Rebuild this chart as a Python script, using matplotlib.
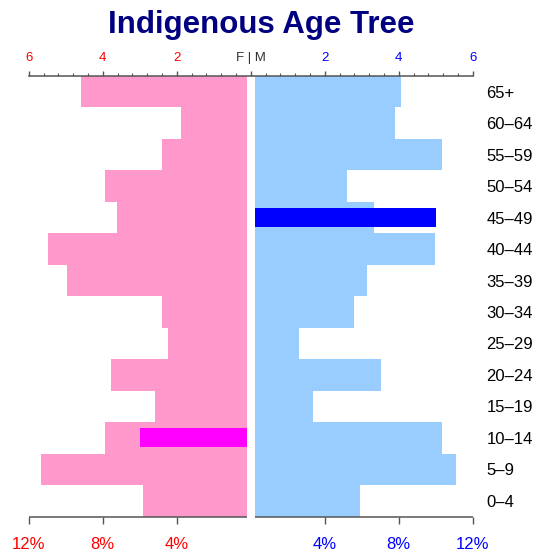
import matplotlib.pyplot as plt
import numpy as np

plt.rcParams['font.family'] = ['Liberation Sans', 'DejaVu Sans']

# Age groups, bottom to top
age_groups = ['0–4', '5–9', '10–14', '15–19', '20–24', '25–29', '30–34',
              '35–39', '40–44', '45–49', '50–54', '55–59', '60–64', '65+']
# Share of the population (%) by sex
female_pct = [5.81, 11.32, 7.86, 5.16, 7.54, 4.46, 4.78,
              9.92, 10.95, 7.22, 7.86, 4.78, 3.76, 9.16]
male_pct = [5.92, 11.11, 10.35, 3.38, 7.05, 2.62, 5.59,
            6.30, 9.97, 6.68, 5.22, 10.35, 7.81, 8.14]

# Highlighted groups
hl_female_group, hl_female_pct = '10–14', 6.0
hl_male_group, hl_male_pct = '45–49', 10.0

pct_ticks = [4, 8, 12]
count_ticks = [6, 4, 2, 0, 2, 4, 6]

PINK = '#ff99cc'
LIGHTBLUE = '#99ccff'
AXCOL = '#555555'
gap = 0.22

W, H = 549, 553
fig = plt.figure(figsize=(W / 100, H / 100), dpi=100)
ax = fig.add_axes([28.7 / W, 1 - 516.5 / H, 444 / W, 440.5 / H])

y = np.arange(len(age_groups))
fem = np.array(female_pct)
mal = np.array(male_pct)

ax.barh(y + 0.5, -(fem - gap), left=-gap, height=1.0, color=PINK, linewidth=0)
ax.barh(y + 0.5, mal - gap, left=gap, height=1.0, color=LIGHTBLUE, linewidth=0)

iy = age_groups.index(hl_female_group)
ax.barh(iy + 0.5, -(hl_female_pct - gap), left=-gap, height=0.6,
        color='#ff00ff', linewidth=0)
iy = age_groups.index(hl_male_group)
ax.barh(iy + 0.5, hl_male_pct - gap, left=gap, height=0.6,
        color='#0000ff', linewidth=0)

ax.set_xlim(-12, 12)
ax.set_ylim(0, len(age_groups))

for s in ax.spines.values():
    s.set_visible(False)

# bottom percent axis, split around the centre
ax.plot([-12, -gap], [0, 0], color=AXCOL, lw=1.1, clip_on=False,
        solid_capstyle='butt')
ax.plot([gap, 12], [0, 0], color=AXCOL, lw=1.1, clip_on=False,
        solid_capstyle='butt')
bx = [-t for t in pct_ticks[::-1]] + pct_ticks
ax.set_xticks(bx)
ax.set_xticklabels([f'{abs(t)}%' for t in bx], fontsize=12)
ax.tick_params(axis='x', direction='out', length=5, width=1, color=AXCOL,
               pad=10)
for lab, t in zip(ax.get_xticklabels(), bx):
    lab.set_color('red' if t < 0 else 'blue')

# age labels on the right
ax.set_yticks(y + 0.5)
ax.set_yticklabels(age_groups, fontsize=12)
ax.yaxis.tick_right()
ax.tick_params(axis='y', length=0, pad=10)

# top axis in counts (1 unit = 2%)
top = ax.twiny()
top.set_xlim(ax.get_xlim())
for s in top.spines.values():
    s.set_visible(False)
top.spines['top'].set_visible(True)
top.spines['top'].set_color(AXCOL)
top.spines['top'].set_linewidth(1.1)
tx = np.linspace(-12, 12, len(count_ticks))
top.set_xticks(tx)
labels = [str(c) for c in count_ticks]
labels[len(labels) // 2] = 'F | M'
top.set_xticklabels(labels, fontsize=9.5)
top.set_xticks(np.arange(-12, 12.01, 0.8), minor=True)
top.tick_params(axis='x', which='major', direction='out', length=3.5,
                width=1, color=AXCOL, pad=5)
top.tick_params(axis='x', which='minor', direction='out', length=2,
                width=0.8, color=AXCOL)
for lab, t in zip(top.get_xticklabels(), tx):
    lab.set_color('red' if t < 0 else ('blue' if t > 0 else '#333333'))

fig.text(261.5 / W, 1 - 32.7 / H, 'Indigenous Age Tree', ha='center',
         va='baseline', fontsize=22.5, fontweight='bold', color='#000080')

fig.savefig('out.png', dpi=100)
